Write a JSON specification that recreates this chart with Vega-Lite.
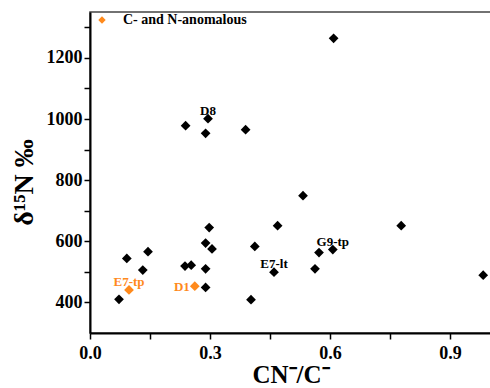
{
  "$schema": "https://vega.github.io/schema/vega-lite/v6.json",
  "width": 401,
  "height": 321,
  "autosize": {"type": "none"},
  "padding": {"left": 90, "top": 12, "right": 0, "bottom": 55},
  "background": "white",
  "config": {
    "font": "Liberation Serif",
    "view": {"stroke": "#444", "strokeWidth": 1.5},
    "axis": {"grid": false, "labelFlush": false, "domainColor": "black", "domainWidth": 2, "tickColor": "black", "tickWidth": 1.5, "tickSize": 6, "labelFont": "Liberation Serif", "labelFontWeight": "bold", "labelFontSize": 18, "labelColor": "black", "titleFont": "Liberation Serif", "titleFontWeight": "bold", "titleColor": "black"},
    "legend": {"labelFont": "Liberation Serif", "labelFontWeight": 700, "labelFontSize": 14, "labelColor": "black"}
  },
  "data": {
    "values": [
      {"x": 0.0725, "y": 410, "group": "normal", "label": null},
      {"x": 0.092, "y": 544, "group": "normal", "label": null},
      {"x": 0.132, "y": 506, "group": "normal", "label": null},
      {"x": 0.145, "y": 566, "group": "normal", "label": null},
      {"x": 0.2375, "y": 519, "group": "normal", "label": null},
      {"x": 0.253, "y": 522, "group": "normal", "label": null},
      {"x": 0.289, "y": 510, "group": "normal", "label": null},
      {"x": 0.289, "y": 594, "group": "normal", "label": null},
      {"x": 0.298, "y": 645, "group": "normal", "label": null},
      {"x": 0.305, "y": 575, "group": "normal", "label": null},
      {"x": 0.289, "y": 449, "group": "normal", "label": null},
      {"x": 0.239, "y": 978, "group": "normal", "label": null},
      {"x": 0.289, "y": 953, "group": "normal", "label": null},
      {"x": 0.295, "y": 1001, "group": "normal", "label": "D8"},
      {"x": 0.389, "y": 965, "group": "normal", "label": null},
      {"x": 0.609, "y": 1264, "group": "normal", "label": null},
      {"x": 0.5325, "y": 749, "group": "normal", "label": null},
      {"x": 0.4025, "y": 409, "group": "normal", "label": null},
      {"x": 0.469, "y": 651, "group": "normal", "label": null},
      {"x": 0.412, "y": 583, "group": "normal", "label": null},
      {"x": 0.46, "y": 499, "group": "normal", "label": "E7-lt"},
      {"x": 0.5625, "y": 510, "group": "normal", "label": null},
      {"x": 0.5725, "y": 563, "group": "normal", "label": null},
      {"x": 0.607, "y": 573, "group": "normal", "label": "G9-tp"},
      {"x": 0.778, "y": 651, "group": "normal", "label": null},
      {"x": 0.983, "y": 489, "group": "normal", "label": null},
      {"x": 0.0975, "y": 441, "group": "C- and N-anomalous", "label": "E7-tp"},
      {"x": 0.262, "y": 453, "group": "C- and N-anomalous", "label": "D1"}
    ]
  },
  "encoding": {
    "x": {"field": "x", "type": "quantitative", "scale": {"domain": [0, 1.0025], "nice": false, "zero": false},
      "axis": {"title": "CN⁻/C⁻", "titleFontSize": 25, "titleBaseline": "alphabetic", "titleY": 49, "labelPadding": 5,
        "values": [0, 0.15, 0.3, 0.45, 0.6, 0.75, 0.9], "labelExpr": "round(datum.value/0.15) % 2 == 0 ? format(datum.value, '.1f') : ''"}},
    "y": {"field": "y", "type": "quantitative", "scale": {"domain": [300, 1350], "nice": false, "zero": false},
      "axis": {"title": "δ¹⁵N ‰", "titleFontSize": 28, "titleAngle": -90, "titleAlign": "center", "titleBaseline": "alphabetic", "titleX": -58, "titleY": 170, "labelPadding": 2,
        "values": [400, 500, 600, 700, 800, 900, 1000, 1100, 1200, 1300], "labelExpr": "datum.value % 200 == 0 ? format(datum.value, 'd') : ''"}}
  },
  "layer": [
    {
      "mark": {"type": "point", "shape": "diamond", "filled": true, "size": 95, "opacity": 1},
      "encoding": {
        "color": {"field": "group", "type": "nominal", "scale": {"domain": ["C- and N-anomalous", "normal"], "range": ["#FF8A1C", "#000000"]},
          "legend": {"values": ["C- and N-anomalous"], "title": null, "orient": "none", "legendX": 5, "legendY": 1, "padding": 0, "symbolSize": 55, "symbolType": "diamond", "labelFont": "serif", "labelFontWeight": 700, "labelFontSize": 14, "labelColor": "black", "labelOffset": 14}}
      }
    },
    {
      "transform": [{"filter": "datum.label != null && datum.label != 'D1'"}],
      "mark": {"type": "text", "align": "center", "baseline": "alphabetic", "dy": -4, "fontSize": 13, "fontWeight": "bold", "font": "Liberation Serif"},
      "encoding": {"text": {"field": "label"}, "color": {"field": "group", "type": "nominal", "legend": null}}
    },
    {
      "transform": [{"filter": "datum.label == 'D1'"}],
      "mark": {"type": "text", "align": "right", "baseline": "middle", "dx": -5, "dy": 1, "fontSize": 13, "fontWeight": "bold", "font": "Liberation Serif"},
      "encoding": {"text": {"field": "label"}, "color": {"field": "group", "type": "nominal", "legend": null}}
    }
  ]
}
